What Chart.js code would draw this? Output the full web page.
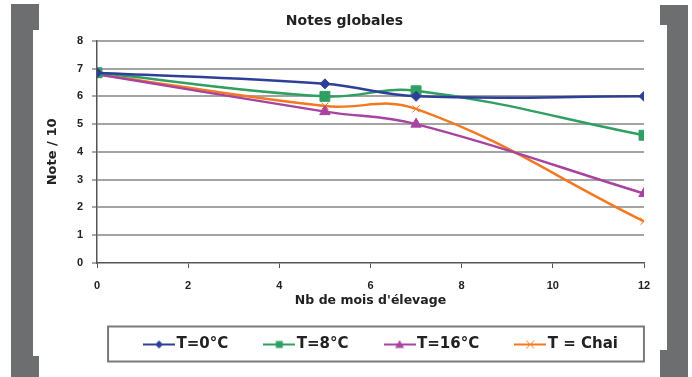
<!DOCTYPE html>
<html>
<head>
<meta charset="utf-8">
<script src="https://cdn.jsdelivr.net/npm/chart.js@4.4.1/dist/chart.umd.min.js"></script>
<style>
  html, body { margin: 0; padding: 0; background: #fff; }
  #wrap { position: relative; width: 692px; height: 377px; overflow: hidden; background: #fff; }
  .bar { position: absolute; background: #6d6e70; }
  canvas { position: absolute; left: 0; top: 0; }
</style>
</head>
<body>
<div id="wrap">
  <!-- grey frame brackets -->
  <div class="bar" style="left:11px;top:4px;width:22px;height:373px"></div>
  <div class="bar" style="left:11px;top:4px;width:28px;height:26px"></div>
  <div class="bar" style="left:11px;top:356px;width:28px;height:21px"></div>
  <div class="bar" style="left:667px;top:5px;width:21px;height:372px"></div>
  <div class="bar" style="left:660px;top:5px;width:28px;height:20px"></div>
  <div class="bar" style="left:660px;top:350px;width:28px;height:27px"></div>
  <canvas id="myChart" width="692" height="377"></canvas>
</div>
<script>
// data
const months = [0, 5, 7, 12];
const t0 = [6.85, 6.45, 6.0, 6.0];
const t8 = [6.85, 6.0, 6.2, 4.6];
const t16 = [6.8, 5.45, 5.0, 2.5];
const tChai = [6.8, 5.65, 5.55, 1.5];

const seriesNames = ['T=0°C', 'T=8°C', 'T=16°C', 'T = Chai'];
const seriesValues = [t0, t8, t16, tChai];
const seriesColors = ['#2e3f97', '#2f9f63', '#a843a1', '#f4781f'];
const markers = ['rectRot', 'rect', 'triangle', 'crossRot'];
const markerSizes = [5, 7, 6, 5];

const yMin = 0, yMax = 8, yStep = 1;
const xMin = 0, xMax = 12, xStep = 2;

const FONT = 'DejaVu Sans';
const TICK_FONT = 'Liberation Sans';

// small line+marker picture used as the legend symbol
function legendIcon(color, style) {
  const c = document.createElement('canvas');
  c.width = 32; c.height = 12;
  const g = c.getContext('2d');
  g.strokeStyle = color; g.fillStyle = color; g.lineWidth = 2;
  g.beginPath(); g.moveTo(0, 6); g.lineTo(32, 6); g.stroke();
  g.beginPath();
  if (style === 'rectRot') {
    g.moveTo(16, 2); g.lineTo(20, 6); g.lineTo(16, 10); g.lineTo(12, 6); g.closePath(); g.fill();
  } else if (style === 'rect') {
    g.fillRect(12.5, 2.5, 7, 7);
  } else if (style === 'triangle') {
    g.moveTo(16, 1.5); g.lineTo(20.5, 9.5); g.lineTo(11.5, 9.5); g.closePath(); g.fill();
  } else {
    g.lineWidth = 1;
    g.moveTo(12, 2); g.lineTo(20, 10); g.moveTo(20, 2); g.lineTo(12, 10); g.stroke();
  }
  return c;
}
const icons = seriesColors.map((c, i) => legendIcon(c, markers[i]));

// nudge the legend to the right and frame it
const legendFrame = {
  id: 'legendFrame',
  afterLayout(chart) {
    const lg = chart.legend;
    if (!lg) return;
    lg.left += 39;
    lg.right += 39;
  },
  afterDraw(chart) {
    const lg = chart.legend;
    if (!lg || !lg.legendHitBoxes || !lg.legendHitBoxes.length) return;
    const boxes = lg.legendHitBoxes;
    const first = boxes[0], last = boxes[boxes.length - 1];
    const left = first.left - 41;
    const right = last.left + last.width + 26;
    const cy = first.top + first.height / 2;
    const ctx = chart.ctx;
    ctx.save();
    ctx.strokeStyle = '#7a7a7a';
    ctx.lineWidth = 2;
    ctx.strokeRect(left, cy - 18, right - left, 35);
    ctx.restore();
  }
};

const datasets = seriesNames.map((name, i) => ({
  label: name,
  data: months.map((m, j) => ({ x: m, y: seriesValues[i][j] })),
  borderColor: seriesColors[i],
  backgroundColor: seriesColors[i],
  borderWidth: 2.5,
  pointStyle: markers[i],
  pointRadius: markerSizes[i],
  pointBorderWidth: 1,
  pointBackgroundColor: seriesColors[i],
  pointBorderColor: seriesColors[i],
  tension: 0.4,
  fill: false
}));

const ctx = document.getElementById('myChart');
const myChart = new Chart(ctx, {
  type: 'line',
  data: { datasets },
  plugins: [legendFrame],
  options: {
    responsive: false,
    animation: false,
    devicePixelRatio: 1,
    layout: { padding: { left: 45, right: 48, top: 0, bottom: 15 } },
    plugins: {
      title: {
        display: true,
        text: 'Notes globales',
        color: '#222',
        font: { family: FONT, size: 14, weight: 'bold', lineHeight: 1.2 },
        padding: { top: 13, bottom: 11 }
      },
      legend: {
        position: 'bottom',
        labels: {
          usePointStyle: true,
          pointStyleWidth: 20,
          padding: 41,
          color: '#222',
          font: { family: FONT, size: 15, weight: 'bold' },
          generateLabels: (chart) => chart.data.datasets.map((ds, i) => ({
            text: ds.label,
            pointStyle: icons[i],
            fillStyle: 'rgba(0,0,0,0)',
            strokeStyle: 'rgba(0,0,0,0)',
            lineWidth: 0,
            fontColor: '#222',
            hidden: false,
            datasetIndex: i
          }))
        }
      },
      tooltip: { enabled: false }
    },
    scales: {
      x: {
        type: 'linear',
        min: xMin,
        max: xMax,
        afterFit: (s) => { s.height = 33; },
        ticks: {
          stepSize: xStep,
          padding: 11,
          color: '#222',
          font: { family: TICK_FONT, size: 11, weight: 'bold' }
        },
        grid: { drawOnChartArea: false, drawTicks: true, tickLength: 5, tickColor: '#555', tickWidth: 1 },
        border: { display: true, color: '#555', width: 1.5 },
        title: {
          display: true,
          text: "Nb de mois d'élevage",
          color: '#222',
          font: { family: FONT, size: 12.5, weight: 'bold', lineHeight: 1.2 },
          padding: { top: 0, bottom: -12.5 }
        }
      },
      y: {
        min: yMin,
        max: yMax,
        afterFit: (s) => { s.width = 52; },
        ticks: {
          stepSize: yStep,
          padding: 9,
          color: '#222',
          font: { family: TICK_FONT, size: 11, weight: 'bold' }
        },
        grid: {
          color: (c) => (c.tick && c.tick.value === 0 ? 'rgba(0,0,0,0)' : '#a4a4a4'),
          lineWidth: 2,
          tickLength: 5,
          tickColor: '#555',
          tickWidth: 1
        },
        border: { display: true, color: '#555', width: 1.5 },
        title: {
          display: true,
          text: 'Note / 10',
          color: '#222',
          font: { family: FONT, size: 13, weight: 'bold', lineHeight: 1.2 },
          padding: { top: 0, bottom: 0 }
        }
      }
    }
  }
});
</script>
</body>
</html>
